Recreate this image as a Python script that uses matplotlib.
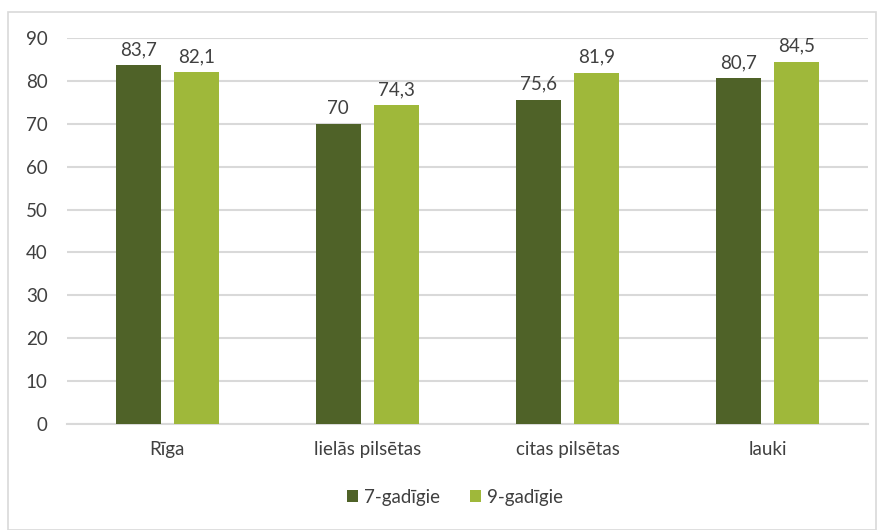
import numpy as np
import matplotlib.pyplot as plt
from matplotlib.patches import Rectangle

categories = ["Rīga", "lielās pilsētas", "citas pilsētas", "lauki"]
series_names = ["7-gadīgie", "9-gadīgie"]
vals_7 = [83.7, 70, 75.6, 80.7]
vals_9 = [82.1, 74.3, 81.9, 84.5]
colors = ["#4F6228", "#9FB83A"]

plt.rcParams['font.family'] = ['Lato', 'DejaVu Sans']

fig = plt.figure(figsize=(8.86, 5.30), dpi=100)
# chart border
fig.patches.append(Rectangle((8 / 886, 0), 868 / 886, 518 / 530, transform=fig.transFigure,
                             fill=False, edgecolor="#D9D9D9", linewidth=1.2))

ax = fig.add_axes([67 / 886, 106 / 530, 801 / 886, 386 / 530])
x = np.arange(len(categories))
w = 0.225
off = 0.145
b1 = ax.bar(x - off, vals_7, w, color=colors[0], label=series_names[0], zorder=3)
b2 = ax.bar(x + off, vals_9, w, color=colors[1], label=series_names[1], zorder=3)

def fmt(v):
    return (f"{v:g}").replace(".", ",")

for bars, vals in ((b1, vals_7), (b2, vals_9)):
    for r, v in zip(bars, vals):
        ax.annotate(fmt(v), (r.get_x() + r.get_width() / 2, v), xytext=(0, 5),
                    textcoords="offset points", ha="center", va="bottom",
                    fontsize=13.5, color="#404040")

ax.set_xlim(-0.5, len(categories) - 0.5)
ax.set_ylim(0, 90)
ax.set_yticks(range(0, 91, 10))
ax.set_xticks(x)
ax.set_xticklabels(categories)
ax.yaxis.grid(True, color="#D9D9D9", linewidth=1.5, zorder=0)
for s in ["top", "right", "left"]:
    ax.spines[s].set_visible(False)
ax.spines["bottom"].set_color("#D9D9D9")
ax.spines["bottom"].set_linewidth(1.5)
ax.tick_params(axis="both", length=0, labelsize=13.5, labelcolor="#404040")
ax.tick_params(axis="y", pad=14)
ax.tick_params(axis="x", pad=12)

fig.legend(handles=[b1, b2], loc="center", bbox_to_anchor=(455 / 886, 33 / 530), ncol=2,
           frameon=False, fontsize=13.5, handlelength=0.6, handleheight=0.6,
           handletextpad=0.3, columnspacing=1.6, labelcolor="#404040")

fig.savefig("out.png", dpi=100)
